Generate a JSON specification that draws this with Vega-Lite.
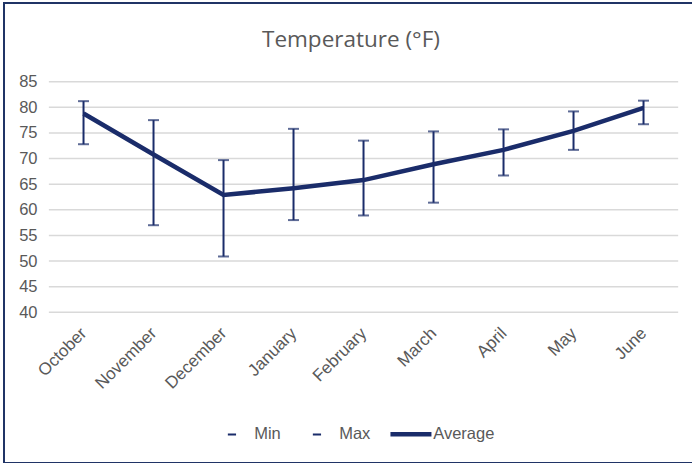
{
  "$schema": "https://vega.github.io/schema/vega-lite/v6.json",
  "width": 700,
  "height": 460,
  "autosize": {"type": "none"},
  "padding": {"left": 4, "top": 3, "right": 0, "bottom": 0},
  "background": "white",
  "config": {
    "view": {"stroke": "#203466", "strokeWidth": 2},
    "font": "Liberation Sans"
  },
  "title": {
    "text": "Temperature (°F)",
    "font": "Open Sans",
    "fontSize": 22.5,
    "fontWeight": "normal",
    "color": "#595959",
    "anchor": "middle",
    "frame": "group",
    "baseline": "alphabetic",
    "offset": -66,
    "dx": -3
  },
  "datasets": {
    "temps": [
      {"month": "October", "min": 72.8, "max": 81.2, "avg": 78.8},
      {"month": "November", "min": 57.0, "max": 77.5, "avg": 70.8},
      {"month": "December", "min": 50.9, "max": 69.7, "avg": 62.9},
      {"month": "January", "min": 58.0, "max": 75.8, "avg": 64.2},
      {"month": "February", "min": 58.9, "max": 73.5, "avg": 65.8},
      {"month": "March", "min": 61.4, "max": 75.3, "avg": 68.9},
      {"month": "April", "min": 66.7, "max": 75.7, "avg": 71.7},
      {"month": "May", "min": 71.7, "max": 79.2, "avg": 75.4},
      {"month": "June", "min": 76.7, "max": 81.3, "avg": 79.9}
    ],
    "grid": [
      {"v": 40}, {"v": 45}, {"v": 50}, {"v": 55}, {"v": 60},
      {"v": 65}, {"v": 70}, {"v": 75}, {"v": 80}, {"v": 85}
    ]
  },
  "layer": [
    {
      "data": {"name": "grid"},
      "mark": {"type": "rule", "color": "#d9d9d9", "strokeWidth": 1.5, "xOffset": -34.65, "x2Offset": 34.65},
      "encoding": {
        "x": {
          "datum": "October",
          "type": "nominal",
          "scale": {
            "type": "point",
            "domain": ["October", "November", "December", "January", "February", "March", "April", "May", "June"],
            "padding": 1.0505,
            "align": 0.568
          },
          "axis": {
            "title": null,
            "orient": "bottom",
            "offset": -150.67,
            "domain": false,
            "ticks": false,
            "grid": false,
            "labelAngle": -45,
            "labelAlign": "right",
            "labelBaseline": "middle",
            "labelFont": "Liberation Sans",
            "labelFontSize": 17,
            "labelColor": "#595959",
            "labelPadding": 18
          }
        },
        "x2": {"datum": "June"},
        "y": {
          "field": "v",
          "type": "quantitative",
          "scale": {"domain": [10.61, 100.35], "nice": false, "zero": false},
          "axis": {
            "title": null,
            "values": [40, 45, 50, 55, 60, 65, 70, 75, 80, 85],
            "domain": false,
            "ticks": false,
            "grid": false,
            "offset": -33,
            "labelPadding": 0,
            "labelFont": "Liberation Sans",
            "labelFontSize": 16.5,
            "labelColor": "#595959"
          }
        }
      }
    },
    {
      "data": {"name": "temps"},
      "mark": {"type": "rule", "color": "#1A2C6A", "strokeWidth": 2},
      "encoding": {
        "x": {"field": "month", "type": "nominal"},
        "y": {"field": "min", "type": "quantitative"},
        "y2": {"field": "max"}
      }
    },
    {
      "data": {"name": "temps"},
      "mark": {"type": "tick", "color": "#1A2C6A", "size": 11, "thickness": 2},
      "encoding": {
        "x": {"field": "month", "type": "nominal"},
        "y": {"field": "min", "type": "quantitative"}
      }
    },
    {
      "data": {"name": "temps"},
      "mark": {"type": "tick", "color": "#1A2C6A", "size": 11, "thickness": 2},
      "encoding": {
        "x": {"field": "month", "type": "nominal"},
        "y": {"field": "max", "type": "quantitative"}
      }
    },
    {
      "data": {"name": "temps"},
      "mark": {"type": "line", "strokeWidth": 4.5, "strokeCap": "butt"},
      "encoding": {
        "x": {"field": "month", "type": "nominal"},
        "y": {"field": "avg", "type": "quantitative"},
        "color": {
          "datum": "Average",
          "type": "nominal",
          "scale": {"domain": ["Min", "Max", "Average"], "range": ["#1A2C6A", "#1A2C6A", "#1A2C6A"]},
          "legend": {
            "orient": "none",
            "legendX": 219.7,
            "legendY": 422.5,
            "direction": "horizontal",
            "title": null,
            "symbolSize": 1681,
            "labelFont": "Liberation Sans",
            "labelFontSize": 16.5,
            "labelColor": "#595959",
            "labelOffset": 14,
            "columnPadding": 10,
            "encode": {
              "symbols": {
                "update": {
                  "shape": {"value": "M-1,0H1"},
                  "strokeWidth": {"signal": "datum.value === 'Average' ? 4.5 : 2"},
                  "strokeDash": {"signal": "datum.value === 'Average' ? [1000, 0] : [0, 16.4, 8.2, 100]"},
                  "stroke": {"value": "#1A2C6A"},
                  "fill": {"value": "transparent"}
                }
              }
            }
          }
        }
      }
    }
  ]
}
